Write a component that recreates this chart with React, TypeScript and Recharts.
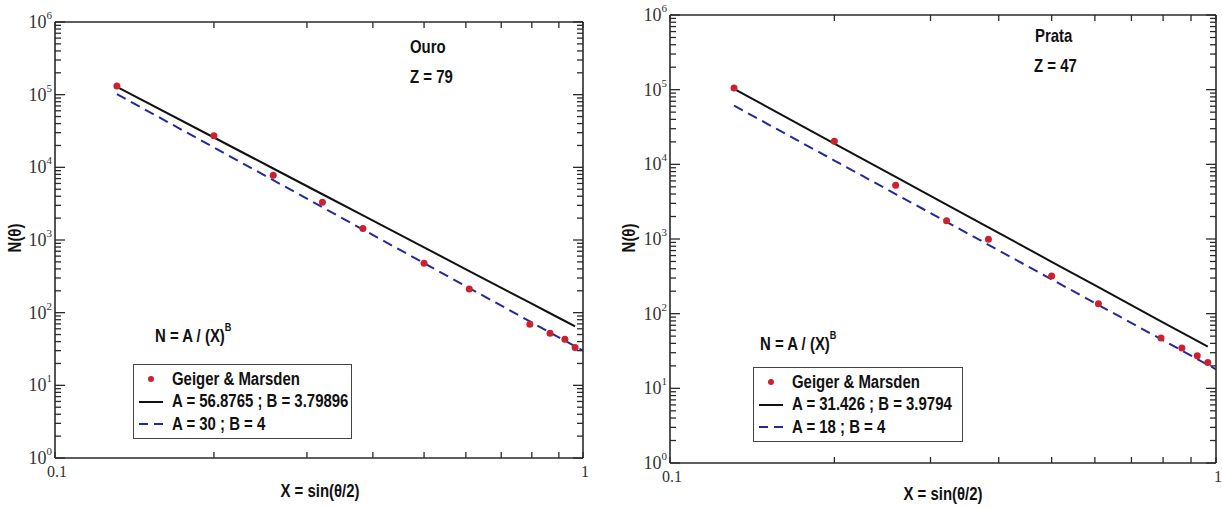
import React from 'react';
import { ComposedChart, XAxis, YAxis, Line, Scatter, Legend } from 'recharts';

// ---------- data ----------
const dataX = [0.131, 0.2, 0.259, 0.321, 0.383, 0.5, 0.609, 0.793, 0.866, 0.924, 0.966];
const fitXExt = [0.131, 0.2, 0.259, 0.321, 0.383, 0.5, 0.609, 0.793, 0.866, 0.924, 0.966, 1.0];

const goldCounts = [132000, 27300, 7800, 3300, 1435, 477, 211, 69.5, 51.9, 43.0, 33.1];
const goldFitBlack = [128300, 25730, 9634, 4262, 2180, 791.6, 374.3, 137.3, 98.2, 76.8, 64.9];
const goldFitBlue = [101900, 18750, 6665, 2826, 1394, 480, 218.1, 75.9, 53.3, 41.2, 34.4, 30];

const silverCounts = [105400, 20300, 5260, 1760, 989, 320, 136, 47.3, 34.8, 27.4, 22.2];
const silverFitBlack = [102300, 19000, 6792, 2892, 1432, 495.7, 226.1, 79.1, 55.7, 43.1, 36.1];
const silverFitBlue = [61130, 11250, 4000, 1695, 836.4, 288, 130.9, 45.5, 32.0, 24.7, 20.7, 18];

const goldLegend = ['Geiger & Marsden', 'A = 56.8765 ; B = 3.79896', 'A = 30 ; B = 4'];
const silverLegend = ['Geiger & Marsden', 'A = 31.426 ; B = 3.9794', 'A = 18 ; B = 4'];

const yMajorTicks = [1, 10, 100, 1000, 10000, 100000, 1000000];
const yExponents = ['0', '1', '2', '3', '4', '5', '6'];
const yMinorMultipliers = [2, 3, 4, 5, 6, 7, 8, 9];
const xTicks = [0.1, 0.2, 0.3, 0.4, 0.5, 0.6, 0.7, 0.8, 0.9, 1];
const xTickLabels = ['0.1', '', '', '', '', '', '', '', '', '1'];

// ---------- styles ----------
const SERIF = "'Liberation Serif','DejaVu Serif',serif";
const SANS = "'Liberation Sans',Arial,sans-serif";
const NARROW = 0.83;
const AXIS = '#2a2a2a';
const RED = '#cc2230';
const BLUE = '#25289a';

const yMinorTicks: number[] = [];
yMajorTicks.slice(0, -1).forEach((d) => yMinorMultipliers.forEach((m) => yMinorTicks.push(d * m)));
const yAllTicks = [...yMajorTicks, ...yMinorTicks].sort((a, b) => a - b);

const toPts = (xs: number[], ys: number[]) => ys.map((y, i) => ({ x: xs[i], y }));

const LeftTick = (p: any) => {
  const v = p.payload.value;
  const idx = yMajorTicks.indexOf(v);
  const major = idx >= 0;
  const x = p.x;
  return (
    <g>
      <line x1={x} x2={x + (major ? 10 : 6)} y1={p.y} y2={p.y} stroke={AXIS} strokeWidth={1.3} />
      {major && (
        <text x={x - 3} y={p.y + 6} textAnchor="end" fontFamily={SERIF} fontSize={18} fill="#333">
          10<tspan dy={-9} fontSize={11}>{yExponents[idx]}</tspan>
        </text>
      )}
    </g>
  );
};
const RightTick = (p: any) => {
  const major = yMajorTicks.indexOf(p.payload.value) >= 0;
  return <line x1={p.x} x2={p.x - (major ? 10 : 6)} y1={p.y} y2={p.y} stroke={AXIS} strokeWidth={1.3} />;
};
const BottomTick = (p: any) => {
  const idx = xTicks.indexOf(p.payload.value);
  const lab = xTickLabels[idx];
  return (
    <g>
      <line x1={p.x} x2={p.x} y1={p.y} y2={p.y - 6} stroke={AXIS} strokeWidth={1.3} />
      {lab && (
        <text x={p.x + 2} y={p.y + 19} textAnchor="middle" fontFamily={SERIF} fontSize={16} fill="#333">
          {lab}
        </text>
      )}
    </g>
  );
};
const TopTick = (p: any) => <line x1={p.x} x2={p.x} y1={p.y} y2={p.y + 6} stroke={AXIS} strokeWidth={1.3} />;

const LegendBox = ({ labels, width }: { labels: string[]; width: number }) => (
  <div
    style={{
      boxSizing: 'border-box',
      width,
      height: 75,
      border: '1.5px solid #444',
      background: '#fff',
      fontFamily: SANS,
      fontWeight: 'bold',
      fontSize: 18,
      color: '#111',
      paddingTop: 3,
    }}
  >
    {labels.map((t, i) => (
      <div key={i} style={{ height: 22.5, display: 'flex', alignItems: 'center', whiteSpace: 'nowrap' }}>
        <svg width={38} height={22} style={{ flex: 'none' }}>
          {i === 0 && <circle cx={17} cy={11} r={3} fill={RED} />}
          {i === 1 && <line x1={5} x2={29} y1={11} y2={11} stroke="#111" strokeWidth={2} />}
          {i === 2 && <line x1={5} x2={29} y1={11} y2={11} stroke={BLUE} strokeWidth={2} strokeDasharray="9 6" />}
        </svg>
        <span style={{ display: 'inline-block', transform: `scaleX(${NARROW})`, transformOrigin: 'left center' }}>{t}</span>
      </div>
    ))}
  </div>
);

// narrow bold sans text in svg
const NT = ({ x, y, size = 18, anchor = 'start', rotate = false, children }: any) => (
  <g transform={`translate(${x} ${y}) ${rotate ? 'rotate(-90)' : ''} scale(${NARROW} 1)`}>
    <text x={0} y={0} fontSize={size} textAnchor={anchor} fontFamily={SANS} fontWeight="bold" fill="#111">
      {children}
    </text>
  </g>
);

type PanelProps = {
  width: number;
  height: number;
  margin: { top: number; right: number; bottom: number; left: number };
  counts: number[];
  black: number[];
  blue: number[];
  legend: string[];
  legendPos: { left: number; top: number; width: number };
  children?: React.ReactNode;
};

const Panel = ({ width, height, margin, counts, black, blue, legend, legendPos, children }: PanelProps) => (
  <div style={{ position: 'relative', width, height }}>
    <ComposedChart
      width={width}
      height={height}
      margin={{ top: margin.top - 1, right: margin.right - 1, bottom: margin.bottom - 1, left: margin.left - 1 }}
    >
      <XAxis
        xAxisId="b"
        type="number"
        dataKey="x"
        scale="log"
        domain={[0.1, 1]}
        allowDataOverflow
        ticks={xTicks}
        interval={0}
        height={1}
        tickSize={0}
        tickMargin={0}
        tickLine={false}
        axisLine={{ stroke: AXIS, strokeWidth: 1.6 }}
        tick={(p: any) => <BottomTick {...p} />}
      />
      <XAxis
        xAxisId="t"
        orientation="top"
        type="number"
        dataKey="x"
        scale="log"
        domain={[0.1, 1]}
        allowDataOverflow
        ticks={xTicks}
        interval={0}
        height={1}
        tickSize={0}
        tickMargin={0}
        tickLine={false}
        axisLine={{ stroke: AXIS, strokeWidth: 1.6 }}
        tick={(p: any) => <TopTick {...p} />}
      />
      <YAxis
        yAxisId="l"
        type="number"
        scale="log"
        domain={[1, 1000000]}
        allowDataOverflow
        ticks={yAllTicks}
        interval={0}
        width={1}
        tickSize={0}
        tickMargin={0}
        tickLine={false}
        axisLine={{ stroke: AXIS, strokeWidth: 1.6 }}
        tick={(p: any) => <LeftTick {...p} />}
      />
      <YAxis
        yAxisId="r"
        orientation="right"
        type="number"
        scale="log"
        domain={[1, 1000000]}
        allowDataOverflow
        ticks={yAllTicks}
        interval={0}
        width={1}
        tickSize={0}
        tickMargin={0}
        tickLine={false}
        axisLine={{ stroke: AXIS, strokeWidth: 1.6 }}
        tick={(p: any) => <RightTick {...p} />}
      />
      <Line
        xAxisId="b"
        yAxisId="l"
        data={toPts(dataX, black)}
        dataKey="y"
        type="linear"
        stroke="#111"
        strokeWidth={2}
        dot={false}
        isAnimationActive={false}
      />
      <Line
        xAxisId="b"
        yAxisId="l"
        data={toPts(fitXExt, blue)}
        dataKey="y"
        type="linear"
        stroke={BLUE}
        strokeWidth={2}
        strokeDasharray="10 6"
        dot={false}
        isAnimationActive={false}
      />
      <Scatter
        xAxisId="b"
        yAxisId="l"
        data={toPts(dataX, counts)}
        dataKey="y"
        isAnimationActive={false}
        shape={(p: any) => <circle cx={p.cx} cy={p.cy} r={3.5} fill={RED} />}
      />
      <Legend
        layout="vertical"
        align="center"
        verticalAlign="middle"
        wrapperStyle={{ left: legendPos.left, top: legendPos.top, width: legendPos.width, height: 75 }}
        content={() => <LegendBox labels={legend} width={legendPos.width} />}
      />
    </ComposedChart>
    <svg
      width={width}
      height={height}
      style={{ position: 'absolute', left: 0, top: 0, pointerEvents: 'none', overflow: 'visible' }}
    >
      {children}
    </svg>
  </div>
);

export default function App() {
  return (
    <div style={{ position: 'absolute', left: 0, top: 0, width: 1222, height: 507, background: '#fff', overflow: 'hidden' }}>
      <div style={{ position: 'absolute', left: 0, top: 0 }}>
        <Panel
          width={610}
          height={507}
          margin={{ top: 22, right: 27, bottom: 49, left: 55 }}
          counts={goldCounts}
          black={goldFitBlack}
          blue={goldFitBlue}
          legend={goldLegend}
          legendPos={{ left: 133, top: 364, width: 219 }}
        >
          <NT x={410} y={53}>Ouro</NT>
          <NT x={410} y={83}>Z = 79</NT>
          <NT x={155} y={342}>
            N = A / (X)<tspan dy={-11} fontSize={11}>B</tspan>
          </NT>
          <NT x={21} y={238} anchor="middle" rotate>N(θ)</NT>
          <NT x={320} y={497} anchor="middle">X = sin(θ/2)</NT>
        </Panel>
      </div>
      <div style={{ position: 'absolute', left: 610, top: 0 }}>
        <Panel
          width={612}
          height={507}
          margin={{ top: 15, right: 6, bottom: 44, left: 60 }}
          counts={silverCounts}
          black={silverFitBlack}
          blue={silverFitBlue}
          legend={silverLegend}
          legendPos={{ left: 143, top: 367, width: 210 }}
        >
          <NT x={425} y={42}>Prata</NT>
          <NT x={424} y={72}>Z = 47</NT>
          <NT x={150} y={350}>
            N = A / (X)<tspan dy={-11} fontSize={11}>B</tspan>
          </NT>
          <NT x={25} y={238} anchor="middle" rotate>N(θ)</NT>
          <NT x={333} y={500} anchor="middle">X = sin(θ/2)</NT>
        </Panel>
      </div>
    </div>
  );
}
